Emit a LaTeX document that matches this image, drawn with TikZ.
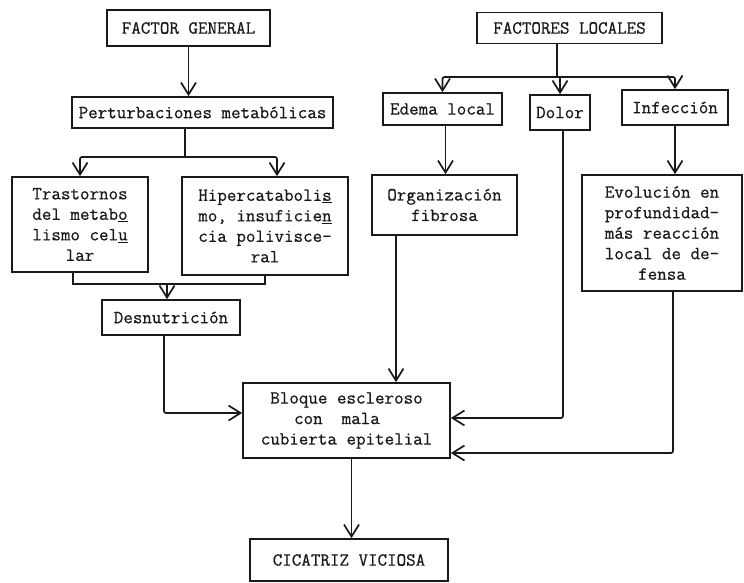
\documentclass[tikz,border=0pt]{standalone}
\usepackage{fontspec}
\usetikzlibrary{arrows.meta}
\newfontfamily\cajatt{Latin Modern Mono}[FakeBold=0.6]
\definecolor{col_ink}{RGB}{25,25,25}
\newcommand{\cajafont}{\cajatt\fontsize{18.5}{20.5}\selectfont}

\begin{document}
\begin{tikzpicture}[x=1pt,y=-1pt,
  cajabox/.style={draw=col_ink, line width=1.7pt, inner sep=0pt, align=center, font=\cajafont, text=col_ink},
  flecha/.style={draw=col_ink, line width=1.7pt, rounded corners=2pt, -{Straight Barb[length=12pt,width=15pt]}},
  linea/.style={draw=col_ink, line width=1.7pt}]
\useasboundingbox (0,0) rectangle (744,583);
\fill[white] (0,0) rectangle (744,583);
%% left branch
\node[cajabox, minimum width=163pt, minimum height=36pt] (gen) at (188.5,28) {FACTOR GENERAL};
\node[cajabox, minimum width=261pt, minimum height=31pt] (pert) at (202.5,112.5) {Perturbaciones metabólicas};
\node[cajabox, minimum width=136pt, minimum height=95pt] (tras) at (80,224.5) {Trastornos\\del metab\underline{o}\\lismo cel\underline{u}\\lar};
\node[cajabox, minimum width=166pt, minimum height=98pt] (hiper) at (265,226) {Hipercataboli\underline{s}\\mo, insuficie\underline{n}\\cia polivisce-\\ral};
\node[cajabox, minimum width=138pt, minimum height=35pt] (desn) at (171,317.5) {Desnutrición};
%% right branch
\node[cajabox, minimum width=185pt, minimum height=31pt] (loc) at (569.5,28) {FACTORES LOCALES};
\node[cajabox, minimum width=119pt, minimum height=32pt] (edema) at (442.5,109) {Edema local};
\node[cajabox, minimum width=60pt, minimum height=35pt] (dolor) at (560,112.5) {Dolor};
\node[cajabox, minimum width=106pt, minimum height=35pt] (infec) at (675,107.5) {Infección};
\node[cajabox, minimum width=145pt, minimum height=60pt] (org) at (444.5,205) {Organización\\fibrosa};
\node[cajabox, minimum width=160pt, minimum height=116pt] (evol) at (662,233) {Evolución en\\profundidad-\\más reacción\\local de de-\\fensa};
%% result
\node[cajabox, minimum width=207pt, minimum height=75pt] (bloq) at (346.5,420.5) {Bloque escleroso\\con\ \ mala\hphantom{xx}\\cubierta epitelial};
\node[cajabox, minimum width=198pt, minimum height=42pt] (cic) at (349,560) {CICATRIZ VICIOSA};

\coordinate (pj) at (185,157);
\coordinate (bj) at (167,284);
\coordinate (lj) at (557,77);

\draw[flecha] (gen.south) -- (gen.south |- pert.north);
\draw[linea] (pert.south -| pj) -- (pj);
\draw[flecha] (pj) -| (tras.north);
\draw[flecha] (pj) -| ([xshift=12pt]hiper.north);
\draw[linea] ([xshift=-7pt]tras.south) |- (bj) -| (hiper.south);
\draw[flecha] (bj) -- (bj |- desn.north);
\draw[flecha] ([xshift=-7pt]desn.south) |- ([yshift=7.5pt]bloq.west);

\draw[linea] ([xshift=-12.5pt]loc.south) -- (lj);
\draw[flecha] (lj) -| (edema.north);
\draw[flecha] (lj) -| (infec.north);
\draw[flecha] (lj -| dolor.north) -- (dolor.north);
\draw[flecha] ([xshift=3pt]edema.south) -- ([xshift=3pt]edema.south |- org.north);
\draw[flecha] (infec.south) -- (infec.south |- evol.north);
\draw[flecha] ([xshift=-48.5pt]org.south) -- ([xshift=-48.5pt]org.south |- bloq.north);
\draw[flecha] ([xshift=3pt]dolor.south) |- ([yshift=2.5pt]bloq.east);
\draw[flecha] ([xshift=11pt]evol.south) |- ([yshift=-32.5pt]bloq.east);
\draw[flecha] ([xshift=5pt]bloq.south) -- ([xshift=5pt]bloq.south |- cic.north);
\end{tikzpicture}
\end{document}
